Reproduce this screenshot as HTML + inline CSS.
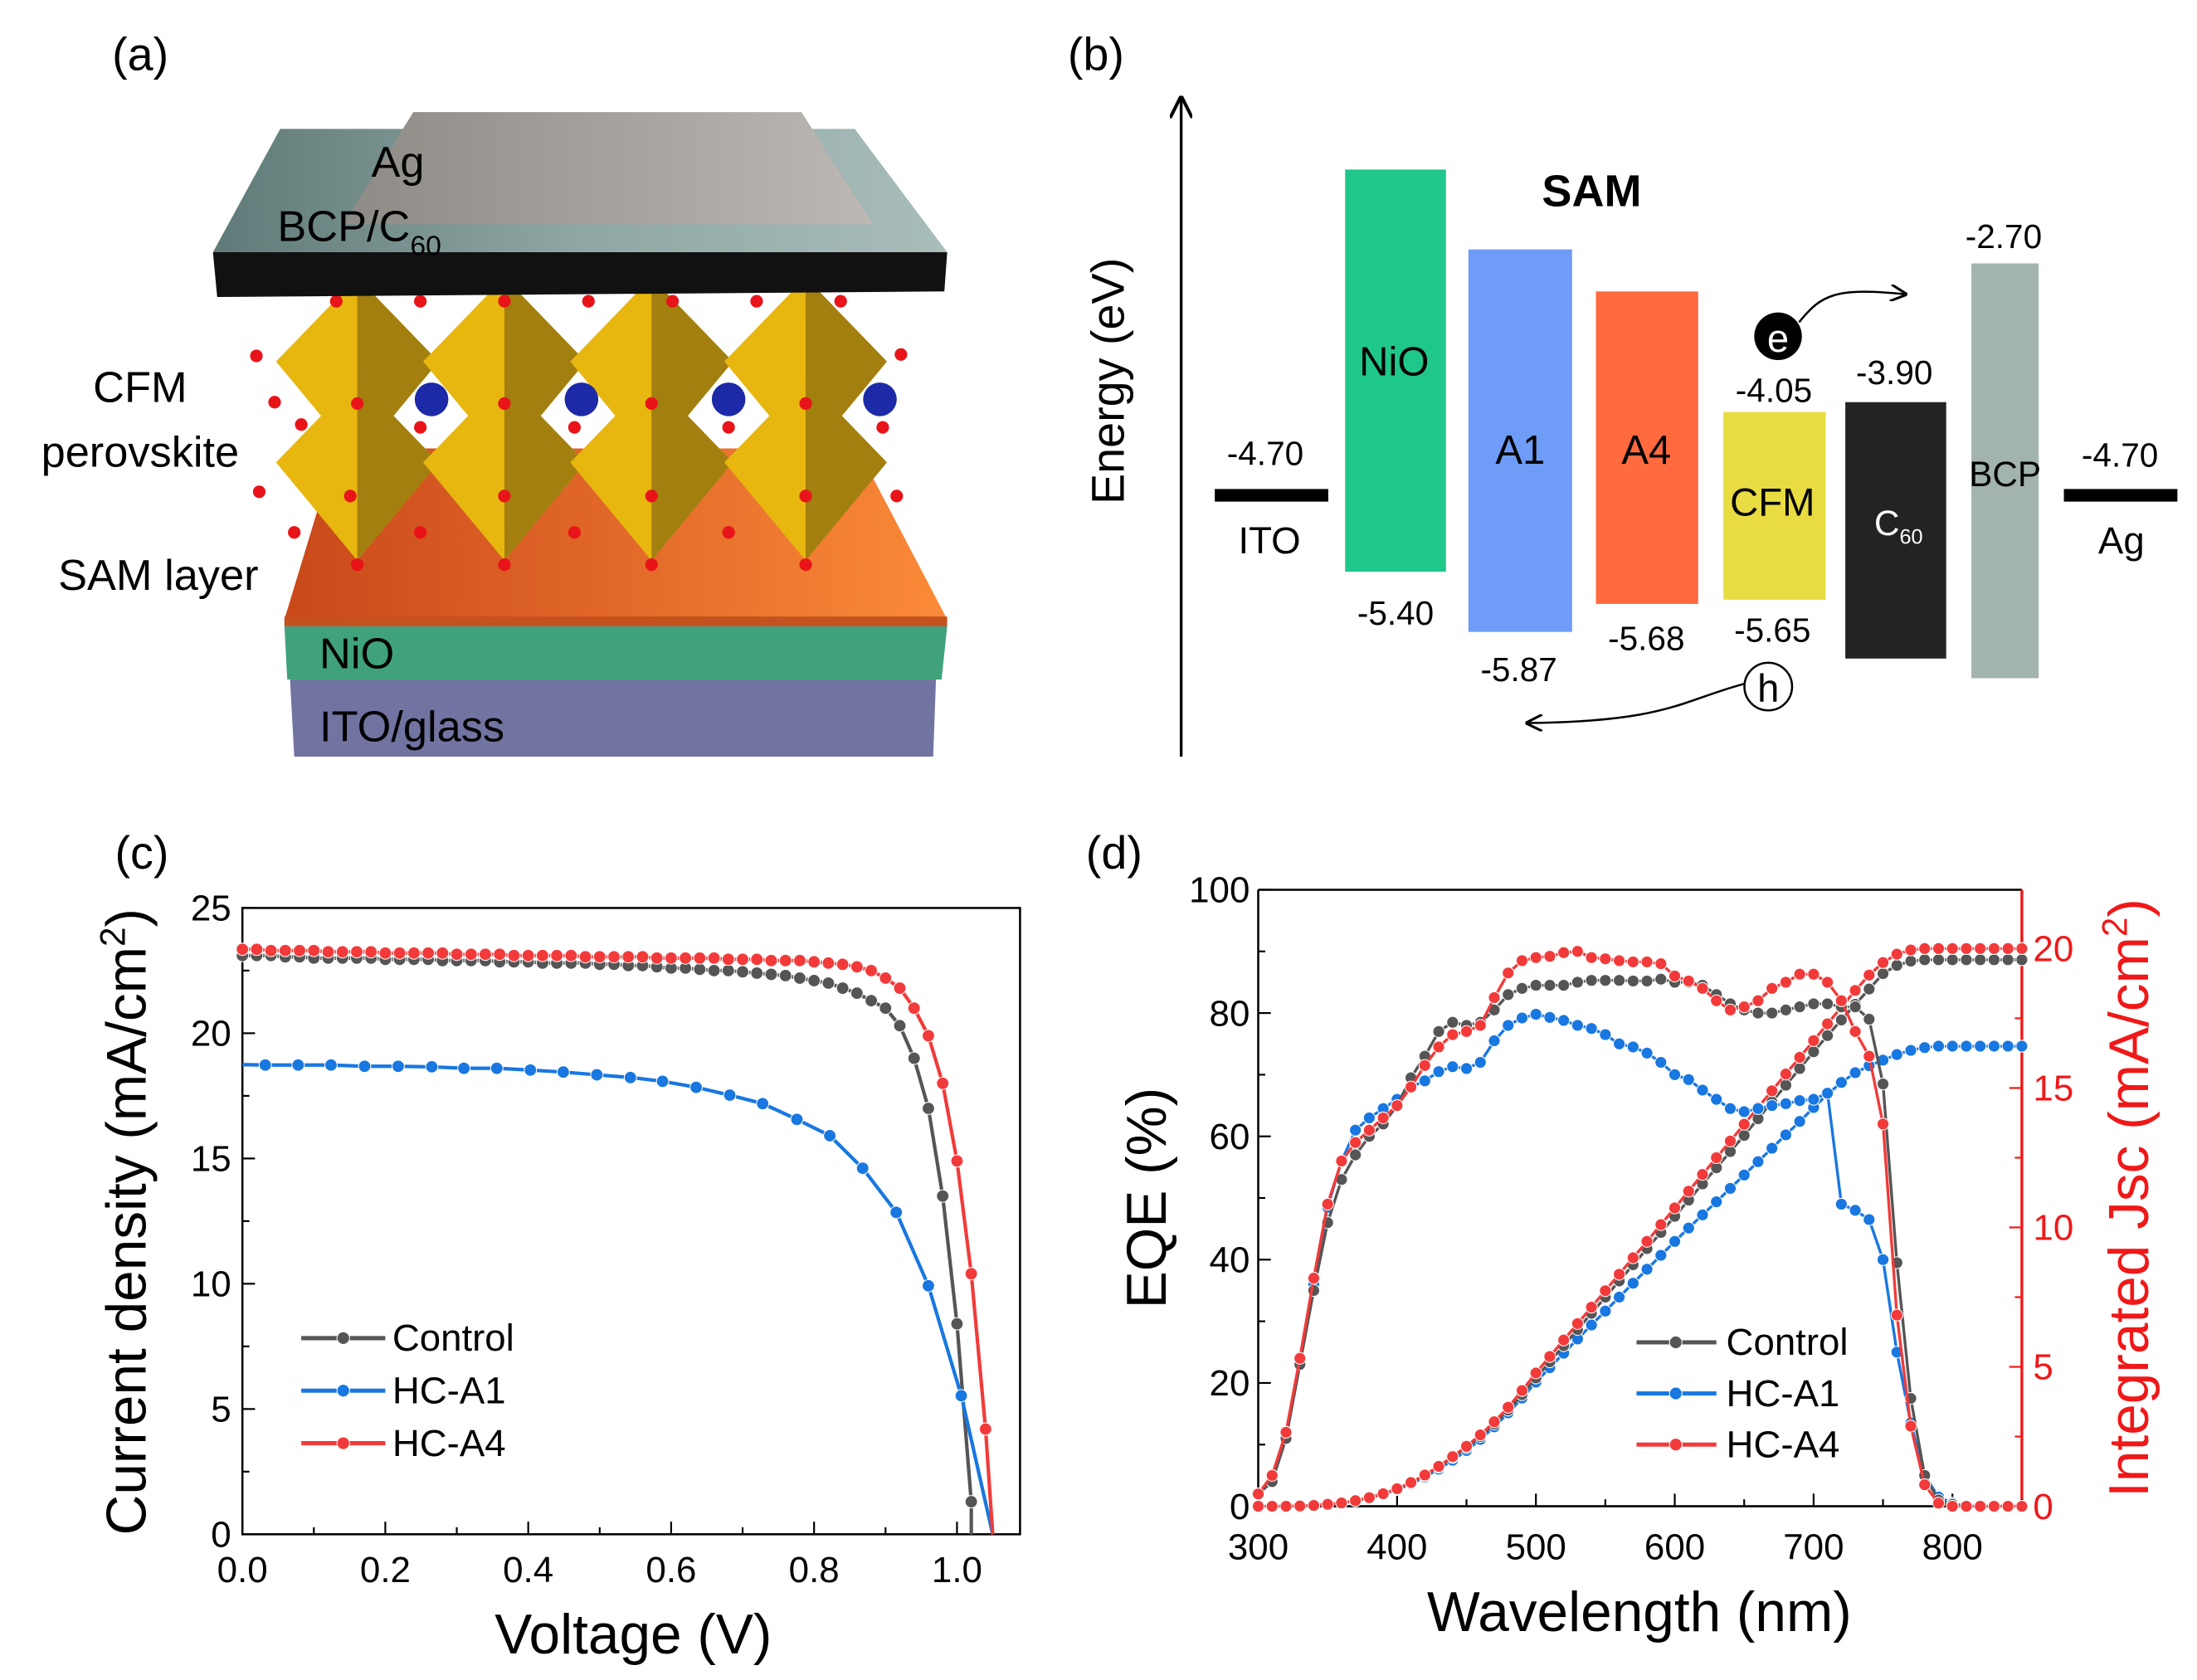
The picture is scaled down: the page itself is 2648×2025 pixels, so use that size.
<!DOCTYPE html>
<html><head><meta charset="utf-8"><style>
html,body{margin:0;padding:0;background:#fff;}
svg{display:block;font-family:"Liberation Sans",Arial,sans-serif;}
</style></head><body>
<svg id="fig" width="2648" height="2025" viewBox="0 0 1568 1199" preserveAspectRatio="none" xmlns="http://www.w3.org/2000/svg">
<defs>
<linearGradient id="gAg" x1="0" y1="0" x2="1" y2="0"><stop offset="0" stop-color="#8e8a86"/><stop offset="1" stop-color="#bcb8b4"/></linearGradient>
<linearGradient id="gBcp" x1="0" y1="0" x2="1" y2="0"><stop offset="0" stop-color="#5f7a78"/><stop offset="0.5" stop-color="#8fa7a4"/><stop offset="1" stop-color="#a9bdbb"/></linearGradient>
<linearGradient id="gSam" x1="0" y1="0" x2="1" y2="0"><stop offset="0" stop-color="#c9481a"/><stop offset="1" stop-color="#fb8a38"/></linearGradient>
<marker id="arr" viewBox="0 0 10 10" refX="9" refY="5" markerWidth="8" markerHeight="8" orient="auto"><path d="M0,0 L10,5 L0,10" fill="none" stroke="#000" stroke-width="1.5"/></marker>
</defs>
<g font-size="33">
<text x="80" y="50">(a)</text>
<text x="762" y="50">(b)</text>
<text x="82" y="620">(c)</text>
<text x="775" y="620">(d)</text>
</g>

<g id="pa">
<polygon points="207,485 668,485 666,540 210,540" fill="#7173a1"/>
<polygon points="203,447 676,447 672,485 205,485" fill="#40a27a"/>
<polygon points="240,320 612,320 676,442 203,442" fill="url(#gSam)"/>
<rect x="203" y="440" width="473" height="7" fill="#c4521e"/>
<g id="octa"></g>
<polygon points="200,92 610,92 676,180 152,180" fill="url(#gBcp)"/>
<polygon points="152,180 676,180 674,208 155,212" fill="#111"/>
<polygon points="295,80 572,80 623,160 245,160" fill="url(#gAg)"/>
<g font-size="31" fill="#000">
<text x="265" y="126">Ag</text>
<text x="198" y="172">BCP/C<tspan font-size="20" dy="10">60</tspan></text>
<text x="100" y="287" text-anchor="middle">CFM</text>
<text x="100" y="333" text-anchor="middle">perovskite</text>
<text x="113" y="421" text-anchor="middle">SAM layer</text>
<text x="228" y="477">NiO</text>
<text x="228" y="529">ITO/glass</text>
</g>
</g>

<g id="pb">
<line x1="843" y1="540" x2="843" y2="70" stroke="#000" stroke-width="2" marker-end="url(#arr)"/>
<text transform="translate(802,272) rotate(-90)" font-size="33" text-anchor="middle">Energy (eV)</text>
<rect x="867" y="349" width="81" height="9" fill="#000"/>
<rect x="1473" y="349" width="81" height="9" fill="#000"/>
<rect x="960" y="121" width="72" height="287" fill="#1fc78a"/>
<rect x="1048" y="178" width="74" height="273" fill="#6e9cf7"/>
<rect x="1139" y="208" width="73" height="223" fill="#ff6a3f"/>
<rect x="1230" y="294" width="73" height="134" fill="#e8dc42"/>
<rect x="1317" y="287" width="72" height="183" fill="#252223"/>
<rect x="1407" y="188" width="48" height="296" fill="#a2b3b0"/>
<g font-size="24" text-anchor="middle">
<text x="903" y="332">-4.70</text><text x="906" y="395" font-size="27">ITO</text>
<text x="1513" y="333">-4.70</text><text x="1514" y="395" font-size="27">Ag</text>
<text x="995" y="268" font-size="29">NiO</text><text x="996" y="446">-5.40</text>
<text x="1085" y="331" font-size="29">A1</text><text x="1084" y="486">-5.87</text>
<text x="1175" y="331" font-size="29">A4</text><text x="1175" y="464">-5.68</text>
<text x="1265" y="368" font-size="28">CFM</text><text x="1266" y="287">-4.05</text><text x="1265" y="458">-5.65</text>
<text x="1355" y="382" fill="#fff" font-size="25">C<tspan font-size="15" dy="6">60</tspan></text><text x="1352" y="274">-3.90</text>
<text x="1431" y="347" font-size="25">BCP</text><text x="1430" y="177">-2.70</text>
<text x="1136" y="147" font-size="32" font-weight="bold">SAM</text>
</g>
<circle cx="1269" cy="240" r="17" fill="#000"/>
<text x="1269" y="251" font-size="28" fill="#fff" text-anchor="middle">e</text>
<path d="M1284,230 C1300,210 1310,205 1360,210" fill="none" stroke="#000" stroke-width="1.5" marker-end="url(#arr)"/>
<circle cx="1262" cy="490" r="17" fill="#fff" stroke="#000" stroke-width="1.5"/>
<text x="1262" y="501" font-size="28" text-anchor="middle">h</text>
<path d="M1245,488 C1200,500 1190,515 1090,516" fill="none" stroke="#000" stroke-width="1.5" marker-end="url(#arr)"/>
</g>

<g id="pc"></g>
<g id="pd"></g>
</svg>
<script>
// ---------- JV data ----------
const jvVoltCtrl = [0,0.02,0.04,0.06,0.08,0.1,0.12,0.14,0.16,0.18,0.2,0.22,0.24,0.26,0.28,0.3,0.32,0.34,0.36,0.38,0.4,0.42,0.44,0.46,0.48,0.5,0.52,0.54,0.56,0.58,0.6,0.62,0.64,0.66,0.68,0.7,0.72,0.74,0.76,0.78,0.8,0.82,0.84,0.86,0.88,0.9,0.92,0.94,0.96,0.98,1.0,1.02];
const jvCtrl = [23.1,23.1,23.1,23.05,23.05,23.0,23.0,23.0,23.0,23.0,22.95,22.95,22.95,22.95,22.9,22.9,22.9,22.9,22.85,22.85,22.85,22.8,22.8,22.8,22.8,22.75,22.75,22.7,22.7,22.65,22.6,22.6,22.55,22.5,22.5,22.45,22.4,22.35,22.3,22.2,22.1,22.0,21.8,21.6,21.3,21.0,20.3,19.0,17.0,13.5,8.4,1.3];
const jvVoltA4 = [0,0.02,0.04,0.06,0.08,0.1,0.12,0.14,0.16,0.18,0.2,0.22,0.24,0.26,0.28,0.3,0.32,0.34,0.36,0.38,0.4,0.42,0.44,0.46,0.48,0.5,0.52,0.54,0.56,0.58,0.6,0.62,0.64,0.66,0.68,0.7,0.72,0.74,0.76,0.78,0.8,0.82,0.84,0.86,0.88,0.9,0.92,0.94,0.96,0.98,1.0,1.02,1.04];
const jvA4 = [23.35,23.35,23.3,23.3,23.3,23.3,23.25,23.25,23.25,23.25,23.2,23.2,23.2,23.2,23.2,23.15,23.15,23.15,23.15,23.1,23.1,23.1,23.1,23.1,23.05,23.05,23.05,23.05,23.05,23.0,23.0,23.0,23.0,23.0,22.95,22.95,22.95,22.9,22.9,22.9,22.85,22.8,22.75,22.65,22.5,22.2,21.8,21.0,19.9,18.0,14.9,10.4,4.2];
const jvVoltA1 = [0.032,0.078,0.124,0.171,0.218,0.265,0.31,0.356,0.403,0.449,0.496,0.543,0.588,0.635,0.682,0.728,0.776,0.822,0.868,0.915,0.96,1.006];
const jvA1 = [18.73,18.73,18.73,18.68,18.68,18.66,18.6,18.6,18.53,18.45,18.34,18.23,18.08,17.84,17.53,17.19,16.56,15.91,14.61,12.85,9.92,5.53];
const vocVals = [1.02,1.05,1.05];
const jscVals = [23.1,18.75,23.35];
const jvXTicks = [0,0.2,0.4,0.6,0.8,1.0];
const jvXTickLabels = ["0.0","0.2","0.4","0.6","0.8","1.0"];
const jvYTicks = [0,5,10,15,20,25];
const seriesNames = ["Control","HC-A1","HC-A4"];

// ---------- EQE data ----------
const wl = [300,310,320,330,340,350,360,370,380,390,400,410,420,430,440,450,460,470,480,490,500,510,520,530,540,550,560,570,580,590,600,610,620,630,640,650,660,670,680,690,700,710,720,730,740,750,760,770,780,790,800,810,820,830,840,850];
const eqeCtrl = [2,4,11,23,35,46,53,57,60,62,65,69.5,73,77,78.5,78,78.5,80.5,83,84,84.5,84.5,84.5,85,85.3,85.3,85.3,85.2,85.2,85.5,85,85,84.5,83,81.5,80.5,80,80,80.5,81,81.5,81.5,81,81,79,68.5,39.5,17.5,5,1,0.3,0,0,0,0,0];
const eqeA1 = [2,4,11,23,36,48.5,56,61,63,64.5,66,68,69,70.5,71.3,71,72,75.5,78,79.2,79.8,79.3,78.8,78,77.5,76.5,75,74.5,73.5,72,70,69.2,67.5,66,64.5,64,64.5,65,65.3,65.8,66,67,49,48,46.5,40,25,13.5,5,1.5,0.5,0,0,0,0,0];
const eqeA4 = [2,5,12,24,37,49,56,59,61,63,65,68,71.5,74.5,76.5,77,78,82.5,86.5,88.5,89,89.2,89.8,90,89,88.8,88.5,88.3,88.3,88,86,85.2,84,82,80.5,81,82,84,85,86.3,86.3,85,82,77,73,62,31,13,3.5,0.5,0,0,0,0,0,0];
const jintCtrl = [0,0,0,0.01,0.03,0.07,0.12,0.2,0.31,0.45,0.62,0.84,1.1,1.4,1.75,2.1,2.5,2.95,3.45,4.0,4.6,5.18,5.76,6.34,6.92,7.5,8.08,8.66,9.24,9.82,10.4,10.98,11.56,12.14,12.72,13.3,13.9,14.5,15.1,15.7,16.3,16.88,17.44,18.0,18.55,19.1,19.4,19.55,19.6,19.6,19.6,19.6,19.6,19.6,19.6,19.6];
const jintA1 = [0,0,0,0.01,0.03,0.07,0.12,0.2,0.3,0.43,0.6,0.8,1.05,1.33,1.65,2.0,2.4,2.85,3.35,3.88,4.45,4.97,5.49,6.0,6.5,7.0,7.5,8.0,8.5,9.0,9.5,9.98,10.45,10.92,11.4,11.88,12.36,12.84,13.32,13.8,14.3,14.78,15.2,15.55,15.8,16.0,16.2,16.35,16.45,16.5,16.5,16.5,16.5,16.5,16.5,16.5];
const jintA4 = [0,0,0,0.01,0.03,0.07,0.12,0.2,0.31,0.45,0.63,0.85,1.12,1.43,1.78,2.15,2.56,3.03,3.55,4.15,4.78,5.37,5.96,6.55,7.14,7.73,8.32,8.91,9.5,10.1,10.7,11.3,11.9,12.5,13.1,13.7,14.3,14.9,15.5,16.1,16.7,17.3,17.9,18.5,19.05,19.5,19.8,19.95,20.0,20.0,20.0,20.0,20.0,20.0,20.0,20.0];
const eqeXTicks = [300,400,500,600,700,800];
const eqeYTicks = [0,20,40,60,80,100];
const jintTicks = [0,5,10,15,20];

const NS = "http://www.w3.org/2000/svg";
const COLORS = ["#555555","#1877e0","#f23a3a"];
function mk(parent, tag, attrs, txt){
  const e = document.createElementNS(NS, tag);
  for (const k in attrs) e.setAttribute(k, attrs[k]);
  if (txt !== undefined) e.textContent = txt;
  parent.appendChild(e);
  return e;
}

(function(){
  const g = document.getElementById('octa');
  const cols = [255,360,465,575];
  cols.forEach((cx,i)=>{
    [[258,0],[330,1]].forEach(([cy,r])=>{
      const p1 = mk(g,'polygon',{points:`${cx},${cy-60} ${cx+58},${cy} ${cx},${cy+70} ${cx-58},${cy}`, fill:'#e7b710'});
      
      
      mk(g,'polygon',{points:`${cx},${cy-60} ${cx+58},${cy} ${cx},${cy+70}`, fill:'#a37f10'});
    });
  });
  const reds = [[183,254],[240,215],[300,215],[360,215],[420,215],[480,215],[540,215],[600,215],[643,253],[196,287],[255,288],[360,288],[465,288],[575,288],[185,351],[250,354],[360,354],[465,354],[575,354],[640,354],[210,380],[300,380],[410,380],[520,380],[255,403],[360,403],[465,403],[575,403],[215,303],[300,305],[410,305],[520,305],[630,305]];
  reds.forEach(([x,y])=>mk(g,'circle',{cx:x,cy:y,r:4.5,fill:'#e8141a'}));
  [[308,285],[415,285],[520,285],[628,285]].forEach(([x,y])=>mk(g,'circle',{cx:x,cy:y,r:12,fill:'#1c2aa8'}));
})();

(function(){
  const g = document.getElementById('pc');
  const L=173,R=728,T=648,B=1095;
  const xs = v => L + v*510;
  const ys = j => B - j*(B-T)/25;
  mk(g,'rect',{x:L,y:T,width:R-L,height:B-T,fill:'none',stroke:'#000','stroke-width':1.5,});
  for (let i=0;i<=10;i++){ const v=i*0.1; const x=xs(v); mk(g,'line',{x1:x,y1:B,x2:x,y2:B-(i%2?5:9),stroke:'#000','stroke-width':1.3}); }
  jvXTicks.forEach((v,i)=>{ const t=mk(g,'text',{x:xs(v),y:B+34,'font-size':26,'text-anchor':'middle'},jvXTickLabels[i]);   });
  for (let j=0;j<=25;j+=2.5){ const y=ys(j); mk(g,'line',{x1:L,y1:y,x2:L+((j%5)?5:9),y2:y,stroke:'#000','stroke-width':1.3}); }
  jvYTicks.forEach(j=>{ const t=mk(g,'text',{x:L-8,y:ys(j)+9,'font-size':26,'text-anchor':'end'},String(j));   });
  const xt = mk(g,'text',{x:452,y:1180,'font-size':40,'text-anchor':'middle'},'Voltage (V)');
   
  const yt = mk(g,'text',{transform:'translate(104,872) rotate(-90)','font-size':40,'text-anchor':'middle'});
   
  yt.innerHTML = 'Current density (mA/cm<tspan font-size="25" dy="-15">2</tspan><tspan dy="15">)</tspan>';
  const sets = [[jvVoltCtrl,jvCtrl],[jvVoltA1,jvA1],[jvVoltA4,jvA4]];
  sets.forEach(([vv,jj],s)=>{
    const pts = [[0,jscVals[s]]].concat(vv.map((v,i)=>[v,jj[i]])).concat([[vocVals[s],0]]);
    const d = pts.map((p,i)=>(i?'L':'M')+xs(p[0]).toFixed(1)+','+ys(p[1]).toFixed(1)).join(' ');
    const path = mk(g,'path',{d:d,fill:'none',stroke:COLORS[s],'stroke-width':2.5});
    
    
    vv.forEach((v,i)=>{
      const c = mk(g,'circle',{cx:xs(v),cy:ys(jj[i]),r:4.4,fill:COLORS[s],stroke:'#fff','stroke-width':0.6});
      
      
    });
  });
  seriesNames.forEach((n,s)=>{
    const y = 955 + s*37.5;
    mk(g,'line',{x1:215,y1:y,x2:275,y2:y,stroke:COLORS[s],'stroke-width':3});
    mk(g,'circle',{cx:245,cy:y,r:4.5,fill:COLORS[s],stroke:'#fff','stroke-width':0.6});
    const t = mk(g,'text',{x:280,y:y+9,'font-size':27},n);
    
    
  });
})();

(function(){
  const g = document.getElementById('pd');
  const L=898,R=1443,T=635,B=1075;
  const xs = w => L + (w-300)*(R-L)/550;
  const ys = e => B - e*(B-T)/100;
  const yr = j => B - j*19.9;
  mk(g,'line',{x1:L,y1:T,x2:R,y2:T,stroke:'#000','stroke-width':1.5});
  mk(g,'line',{x1:L,y1:T,x2:L,y2:B,stroke:'#000','stroke-width':1.5});
  mk(g,'line',{x1:L,y1:B,x2:R,y2:B,stroke:'#000','stroke-width':1.5});
  mk(g,'line',{x1:R,y1:T,x2:R,y2:B,stroke:'#f01818','stroke-width':2,});
  for (let w=300; w<=850; w+=50){ const x=xs(w); mk(g,'line',{x1:x,y1:B,x2:x,y2:B-((w%100)?5:9),stroke:'#000','stroke-width':1.3}); }
  eqeXTicks.forEach(w=>{ const t=mk(g,'text',{x:xs(w),y:B+38,'font-size':26,'text-anchor':'middle'},String(w));   });
  for (let e=0;e<=100;e+=10){ const y=ys(e); mk(g,'line',{x1:L,y1:y,x2:L+((e%20)?5:9),y2:y,stroke:'#000','stroke-width':1.3}); }
  eqeYTicks.forEach(e=>{ const t=mk(g,'text',{x:L-6,y:ys(e)+9,'font-size':26,'text-anchor':'end'},String(e));   });
  for (let j=0;j<=22;j+=2.5){ const y=yr(j); mk(g,'line',{x1:R,y1:y,x2:R-((j%5)?5:9),y2:y,stroke:'#f01818','stroke-width':1.3}); }
  jintTicks.forEach(j=>{ const t=mk(g,'text',{x:R+8,y:yr(j)+9,'font-size':26,fill:'#f01818'},String(j));   });
  const xt = mk(g,'text',{x:1170,y:1164,'font-size':40,'text-anchor':'middle'},'Wavelength (nm)');
   
  const yt = mk(g,'text',{transform:'translate(832,855) rotate(-90)','font-size':40,'text-anchor':'middle'},'EQE (%)');
   
  const rt = mk(g,'text',{transform:'translate(1533,855) rotate(-90)','font-size':40,'text-anchor':'middle',fill:'#f01818'});
   
  rt.innerHTML = 'Integrated Jsc (mA/cm<tspan font-size="25" dy="-15">2</tspan><tspan dy="15">)</tspan>';
  function series(vals, sc, s, nm){
    const d = vals.map((v,i)=>(i?'L':'M')+xs(wl[i]).toFixed(1)+','+sc(v).toFixed(1)).join(' ');
    const p = mk(g,'path',{d:d,fill:'none',stroke:COLORS[s],'stroke-width':2});
    
    
    vals.forEach((v,i)=>{
      const c = mk(g,'circle',{cx:xs(wl[i]),cy:sc(v),r:4.2,fill:COLORS[s],stroke:'#fff','stroke-width':0.6});
      
      
    });
  }
  series(jintA1, yr, 1, 'jint-line-hc-a1');
  series(jintCtrl, yr, 0, 'jint-line-control');
  series(jintA4, yr, 2, 'jint-line-hc-a4');
  series(eqeA1, ys, 1, 'eqe-line-hc-a1');
  series(eqeCtrl, ys, 0, 'eqe-line-control');
  series(eqeA4, ys, 2, 'eqe-line-hc-a4');
  seriesNames.forEach((n,s)=>{
    const y = 958 + s*36.5;
    mk(g,'line',{x1:1168,y1:y,x2:1225,y2:y,stroke:COLORS[s],'stroke-width':3});
    mk(g,'circle',{cx:1196,cy:y,r:4.5,fill:COLORS[s],stroke:'#fff','stroke-width':0.6});
    const t = mk(g,'text',{x:1232,y:y+9,'font-size':27},n);
    
    
  });
})();
</script>
</body></html>
